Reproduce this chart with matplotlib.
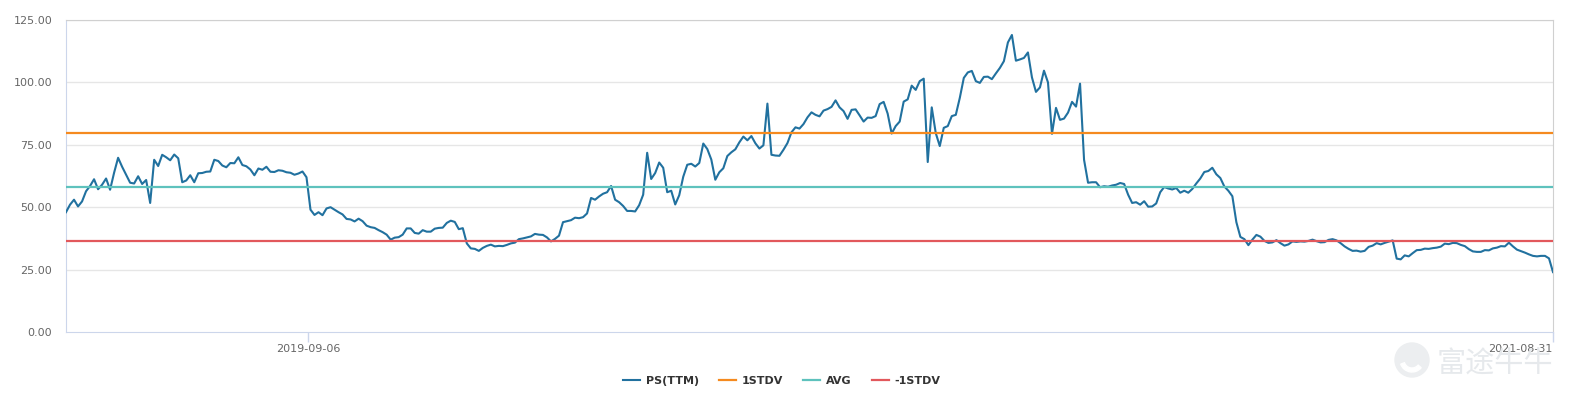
import matplotlib
matplotlib.use("Agg")
import matplotlib.pyplot as plt
from matplotlib.patches import Circle, Wedge
import numpy as np
import pandas as pd

plt.rcParams['font.family'] = ['DejaVu Sans', 'Noto Sans CJK SC']

# PS(TTM) readings, evenly spaced between the first and last date
ps_ttm = [
    48, 51, 53, 50.3, 52.3, 56.4, 58.5, 61.2, 57.2, 59,
    61.5, 57, 63.8, 69.8, 66.2, 63, 59.8, 59.5, 62.4, 59.3,
    60.9, 51.7, 69, 66.5, 71, 70, 68.8, 71.1, 69.6, 60,
    60.7, 62.8, 60, 63.6, 63.7, 64.2, 64.3, 69, 68.5, 66.7,
    66, 67.7, 67.6, 70, 66.9, 66.4, 65.1, 62.8, 65.5, 65,
    66.2, 64.2, 64.1, 64.8, 64.6, 64, 63.8, 63, 63.5, 64.3,
    62, 49, 46.9, 48, 46.8, 49.5, 50, 49, 48, 47.1,
    45.3, 45.1, 44.3, 45.4, 44.4, 42.6, 42, 41.7, 40.8, 40,
    39, 37, 37.8, 38, 39, 41.5, 41.5, 39.7, 39.4, 40.8,
    40.2, 40.2, 41.4, 41.7, 41.8, 43.7, 44.6, 44.1, 41.2, 41.6,
    35.5, 33.5, 33.3, 32.5, 33.7, 34.5, 35, 34.3, 34.5, 34.4,
    34.9, 35.5, 35.8, 37.2, 37.5, 37.9, 38.3, 39.3, 39, 38.9,
    37.9, 36.3, 37.3, 38.6, 44, 44.4, 44.8, 45.8, 45.6, 46,
    47.5, 53.7, 53, 54.3, 55.4, 56, 58.5, 53, 52, 50.5,
    48.5, 48.5, 48.3, 50.8, 55, 71.8, 61.3, 63.7, 67.9, 65.8,
    56, 56.6, 51.1, 54.8, 62.2, 67, 67.4, 66.3, 67.7, 75.5,
    73.3, 69.1, 61, 64, 65.6, 70.5, 72, 73.2, 76, 78.3,
    76.8, 78.5, 75.6, 73.5, 74.8, 91.5, 71, 70.7, 70.6, 73,
    75.7, 80, 82, 81.5, 83.3, 86, 88, 87, 86.4, 88.7,
    89.3, 90.2, 92.8, 90, 88.5, 85.4, 89, 89.2, 86.8, 84.3,
    85.9, 85.8, 86.5, 91.3, 92.2, 87.5, 79.5, 82.5, 84.3, 92.3,
    93.2, 98.7, 97, 100.5, 101.5, 68.1, 90, 79.7, 74.5, 81.8,
    82.5, 86.5, 87, 93.8, 101.8, 104, 104.6, 100.5, 99.8, 102.2,
    102.3, 101.3, 103.6, 105.8, 108.5, 116, 119, 108.7, 109.2, 109.8,
    112, 102, 96.2, 98, 104.7, 100, 79.4, 89.8, 85, 85.5,
    87.9, 92.2, 90.3, 99.5, 69, 59.8, 60, 60, 58, 58.4,
    58.2, 58.7, 59, 59.7, 59.3, 55, 51.7, 52, 51, 52.4,
    50.2, 50.3, 51.5, 56, 58.1, 57.5, 57.1, 57.7, 55.8, 56.6,
    55.8, 57.3, 59.5, 61.5, 64.1, 64.5, 65.8, 63.2, 61.7, 58.3,
    56.6, 54.4, 44, 38.1, 37.2, 34.8, 37, 38.9, 38.2, 36.5,
    35.7, 35.9, 36.8, 35.6, 34.6, 35.1, 36.3, 36.1, 36.3, 36.2,
    36.5, 37, 36.4, 35.9, 36, 36.9, 37.2, 36.7, 35.6, 34.3,
    33.3, 32.5, 32.6, 32.2, 32.5, 34.1, 34.6, 35.6, 35.1, 35.7,
    36.2, 36.7, 29.4, 29.1, 30.7, 30.3, 31.6, 32.8, 32.9, 33.4,
    33.3, 33.6, 33.8, 34.2, 35.4, 35.2, 35.7, 35.6, 34.9, 34.4,
    33.2, 32.3, 32.1, 32.1, 32.8, 32.7, 33.5, 33.8, 34.4, 34.3,
    35.8, 34.3, 33, 32.4, 31.8, 31.1, 30.5, 30.3, 30.5, 30.5,
    29.5, 24,
]
start_date = '2019-04-18'
end_date = '2021-08-31'
tick_dates = ['2019-09-06', '2021-08-31']

stdv_up = 79.8
avg = 58.1
stdv_down = 36.5

dates = pd.date_range(start_date, end_date, periods=len(ps_ttm))

fig = plt.figure(figsize=(15.74, 3.98), dpi=100)
ax = fig.add_axes([66 / 1574, 1 - 332 / 398, (1553 - 66) / 1574, (332 - 20) / 398])

ax.plot(dates, ps_ttm, color='#21719f', lw=1.5, label='PS(TTM)', zorder=3)
ax.axhline(stdv_up, color='#f58a1f', lw=1.6, label='1STDV', zorder=4)
ax.axhline(avg, color='#5ec2bd', lw=1.6, label='AVG', zorder=4)
ax.axhline(stdv_down, color='#e2585c', lw=1.6, label='-1STDV', zorder=4)

ax.set_ylim(0, 125)
ax.set_yticks(np.arange(0, 126, 25))
ax.set_yticklabels(['%.2f' % v for v in np.arange(0, 126, 25)])
ax.set_xlim(dates[0], dates[-1])
ticks = pd.to_datetime(tick_dates)
ax.set_xticks(ticks)
ax.set_xticklabels([t.strftime('%Y-%m-%d') for t in ticks])
ax.get_xticklabels()[-1].set_ha('right')

for y in np.arange(25, 126, 25):
    ax.axhline(y, color='#e6e6e6', lw=1, zorder=1)

ax.tick_params(axis='y', length=0, pad=10, labelsize=8, labelcolor='#666666')
ax.tick_params(axis='x', length=7, width=1, color='#ccd6eb', pad=2,
               labelsize=8, labelcolor='#666666')
for s in ['left', 'bottom']:
    ax.spines[s].set_color('#ccd6eb')
for s in ['top', 'right']:
    ax.spines[s].set_color('#d0d0d0')

fig.legend(loc='center', bbox_to_anchor=(782 / 1574, 1 - 381 / 398), ncol=4,
           frameon=False, handlelength=1.5, handletextpad=0.55, columnspacing=1.8,
           prop={'size': 8, 'weight': 'bold'}, labelcolor='#333333')

# watermark logo and name
fig.add_artist(Circle((14.12, 0.38), 0.17, transform=fig.dpi_scale_trans,
                      color='#eceef0', zorder=0))
fig.add_artist(Wedge((14.12, 0.38), 0.12, 200, 320, width=0.04,
                     transform=fig.dpi_scale_trans, color='white', zorder=0))
fig.text(1495 / 1574, 1 - 365 / 398, '富途牛牛', family=['Noto Sans CJK SC'],
         fontsize=21, color='#e6e9ec', ha='center', va='center', zorder=0)

fig.savefig('out.png', dpi=100)
